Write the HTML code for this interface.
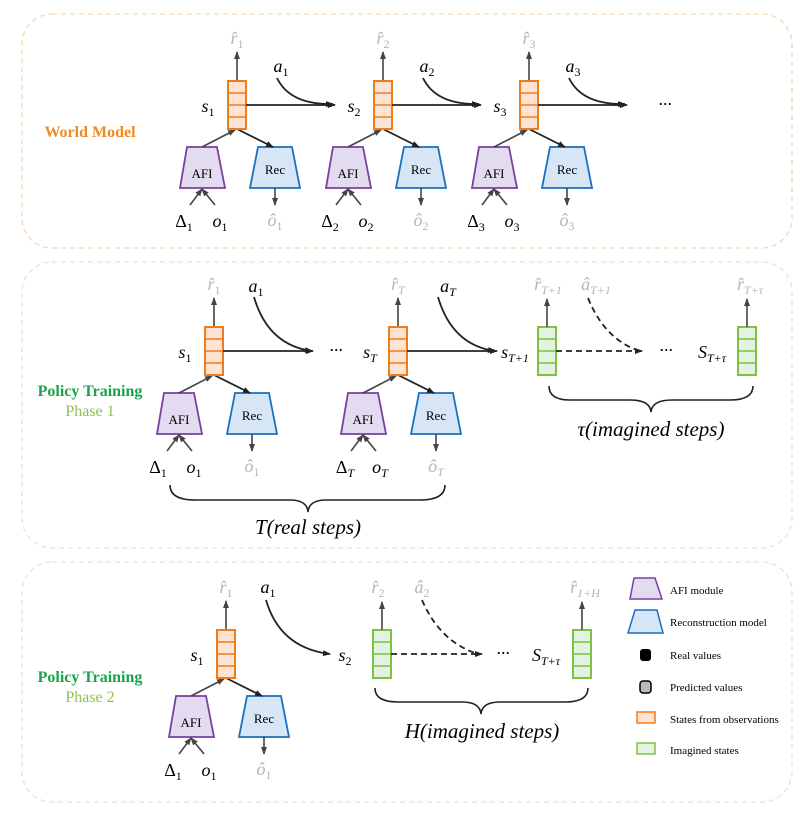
<!DOCTYPE html>
<html><head><meta charset="utf-8"><style>
html,body{margin:0;padding:0;background:#fff}
svg{display:block}
.m{font-family:"Liberation Serif","DejaVu Serif",serif;font-style:italic;font-size:18px;text-anchor:middle}
.m tspan{font-style:normal}
.m tspan.i{font-style:italic}
.g{fill:#b5b5b5}
.t{font-family:"Liberation Serif",serif;font-size:13px;text-anchor:middle}
.lg{font-family:"Liberation Serif",serif;font-size:11px}
.ph{font-family:"Liberation Serif",serif;font-size:16px;font-weight:bold;text-anchor:middle}
</style></head><body>
<svg width="812" height="820" viewBox="0 0 812 820" xmlns="http://www.w3.org/2000/svg">
<defs>
<marker id="ah" markerWidth="8" markerHeight="8" refX="7" refY="4" orient="auto" markerUnits="userSpaceOnUse"><path d="M0,1 L8,4 L0,7 z" fill="#222"/></marker>
<marker id="ahg" markerWidth="8" markerHeight="8" refX="7" refY="4" orient="auto" markerUnits="userSpaceOnUse"><path d="M0,1 L8,4 L0,7 z" fill="#444"/></marker>
<g id="ob"><rect x="0" y="0" width="18" height="48" fill="#fde3d3" stroke="#f07d1a" stroke-width="2"/><path d="M0,12H18M0,24H18M0,36H18" stroke="#f07d1a" stroke-width="1.5"/></g>
<g id="gb"><rect x="0" y="0" width="18" height="48" fill="#e4f2e1" stroke="#7dc242" stroke-width="2"/><path d="M0,12H18M0,24H18M0,36H18" stroke="#7dc242" stroke-width="1.5"/></g>
<g id="col">
 <line x1="9" y1="0" x2="9" y2="-29" stroke="#444" stroke-width="1.6" marker-end="url(#ahg)"/>
 <polygon points="-41,66 -11,66 -3,107 -48,107" fill="#e3dbef" stroke="#7a3fa0" stroke-width="1.8"/>
 <polygon points="30,66 64,66 72,107 22,107" fill="#d6e6f6" stroke="#1a6fbf" stroke-width="1.8"/>
 <line x1="-26" y1="66" x2="7" y2="49" stroke="#444" stroke-width="1.6" marker-end="url(#ahg)"/>
 <line x1="9" y1="48" x2="45" y2="66" stroke="#222" stroke-width="1.8" marker-end="url(#ah)"/>
 <line x1="47" y1="107" x2="47" y2="124" stroke="#444" stroke-width="1.6" marker-end="url(#ahg)"/>
 <line x1="-38" y1="124" x2="-26" y2="108" stroke="#444" stroke-width="1.6" marker-end="url(#ahg)"/>
 <line x1="-13" y1="124" x2="-26" y2="108" stroke="#444" stroke-width="1.6" marker-end="url(#ahg)"/>
 <use href="#ob"/>
</g>
</defs>

<rect x="22" y="14" width="770" height="234" rx="30" fill="none" stroke="#f9d6b0" stroke-width="1.3" stroke-dasharray="5,4"/>
<rect x="22" y="262" width="770" height="286" rx="30" fill="none" stroke="#d8e8e2" stroke-width="1.3" stroke-dasharray="5,4"/>
<rect x="22" y="562" width="770" height="240" rx="30" fill="none" stroke="#d8e8e2" stroke-width="1.3" stroke-dasharray="5,4"/>

<text x="90" y="137" class="ph" fill="#f08a24">World Model</text>
<text x="90" y="396" class="ph" fill="#1aa34a">Policy Training</text>
<text x="90" y="416" class="ph" style="font-weight:normal" fill="#8cc152">Phase 1</text>
<text x="90" y="682" class="ph" fill="#1aa34a">Policy Training</text>
<text x="90" y="702" class="ph" style="font-weight:normal" fill="#8cc152">Phase 2</text>

<!-- Panel 1 -->
<use href="#col" x="228" y="81"/><use href="#col" x="374" y="81"/><use href="#col" x="520" y="81"/>
<g fill="none" stroke="#222" stroke-width="1.8">
<path d="M277,78 Q290,105 333,104" marker-end="url(#ah)"/><line x1="246" y1="105" x2="335" y2="105" marker-end="url(#ah)"/>
<path d="M423,78 Q436,105 479,104" marker-end="url(#ah)"/><line x1="392" y1="105" x2="481" y2="105" marker-end="url(#ah)"/>
<path d="M569,78 Q582,105 625,104" marker-end="url(#ah)"/><line x1="538" y1="105" x2="627" y2="105" marker-end="url(#ah)"/>
</g>
<text x="665" y="110" class="m">···</text>
<g class="t"><text x="202" y="178">AFI</text><text x="275" y="174">Rec</text><text x="348" y="178">AFI</text><text x="421" y="174">Rec</text><text x="494" y="178">AFI</text><text x="567" y="174">Rec</text></g>
<g class="m">
<text x="208" y="112">s<tspan font-size="12" dy="4">1</tspan></text>
<text x="354" y="112">s<tspan font-size="12" dy="4">2</tspan></text>
<text x="500" y="112">s<tspan font-size="12" dy="4">3</tspan></text>
<text x="237" y="44" class="m g">r̂<tspan font-size="12" dy="4">1</tspan></text>
<text x="383" y="44" class="m g">r̂<tspan font-size="12" dy="4">2</tspan></text>
<text x="529" y="44" class="m g">r̂<tspan font-size="12" dy="4">3</tspan></text>
<text x="281" y="72">a<tspan font-size="12" dy="4">1</tspan></text>
<text x="427" y="72">a<tspan font-size="12" dy="4">2</tspan></text>
<text x="573" y="72">a<tspan font-size="12" dy="4">3</tspan></text>
<text x="275" y="226" class="m g">ô<tspan font-size="12" dy="4">1</tspan></text>
<text x="421" y="226" class="m g">ô<tspan font-size="12" dy="4">2</tspan></text>
<text x="567" y="226" class="m g">ô<tspan font-size="12" dy="4">3</tspan></text>
<text x="184" y="227" style="font-style:normal">Δ<tspan font-size="12" dy="4">1</tspan></text>
<text x="220" y="227">o<tspan font-size="12" dy="4">1</tspan></text>
<text x="330" y="227" style="font-style:normal">Δ<tspan font-size="12" dy="4">2</tspan></text>
<text x="366" y="227">o<tspan font-size="12" dy="4">2</tspan></text>
<text x="476" y="227" style="font-style:normal">Δ<tspan font-size="12" dy="4">3</tspan></text>
<text x="512" y="227">o<tspan font-size="12" dy="4">3</tspan></text>
</g>

<!-- Panel 2 -->
<use href="#col" x="205" y="327"/><use href="#col" x="389" y="327"/>
<use href="#gb" x="538" y="327"/><use href="#gb" x="738" y="327"/>
<g fill="none" stroke="#222" stroke-width="1.8">
<path d="M254,297 Q268,345 312,351" marker-end="url(#ah)"/><line x1="223" y1="351" x2="313" y2="351" marker-end="url(#ah)"/>
<path d="M438,297 Q452,345 495,351" marker-end="url(#ah)"/><line x1="407" y1="351" x2="497" y2="351" marker-end="url(#ah)"/>
<line x1="556" y1="351" x2="642" y2="351" stroke-dasharray="6,4" marker-end="url(#ah)"/>
<path d="M588,298 Q605,340 640,351" stroke-dasharray="6,4"/>
<line x1="547" y1="327" x2="547" y2="299" stroke="#444" stroke-width="1.6" marker-end="url(#ahg)"/>
<line x1="747" y1="327" x2="747" y2="299" stroke="#444" stroke-width="1.6" marker-end="url(#ahg)"/>
<path d="M549,386 Q549,400 570,400 L630,400 Q650,400 651,412 Q652,400 672,400 L730,400 Q753,400 753,386" stroke-width="1.6"/>
<path d="M170,485 Q170,500 195,500 L290,500 Q307,500 308,512 Q309,500 326,500 L420,500 Q445,500 445,485" stroke-width="1.6"/>
</g>
<g class="t"><text x="179" y="424">AFI</text><text x="252" y="420">Rec</text><text x="363" y="424">AFI</text><text x="436" y="420">Rec</text></g>
<g class="m">
<text x="185" y="358">s<tspan font-size="12" dy="4">1</tspan></text>
<text x="370" y="358">s<tspan font-size="12" dy="4" class="i">T</tspan></text>
<text x="336" y="356">···</text>
<text x="515" y="358">s<tspan font-size="12" dy="4" class="i">T+1</tspan></text>
<text x="666" y="356">···</text>
<text x="712" y="358">S<tspan font-size="12" dy="4" class="i">T+τ</tspan></text>
<text x="214" y="290" class="m g">r̂<tspan font-size="12" dy="4">1</tspan></text>
<text x="398" y="290" class="m g">r̂<tspan font-size="12" dy="4" class="i">T</tspan></text>
<text x="548" y="290" class="m g">r̂<tspan font-size="12" dy="4" class="i">T+1</tspan></text>
<text x="596" y="290" class="m g">â<tspan font-size="12" dy="4" class="i">T+1</tspan></text>
<text x="750" y="290" class="m g">r̂<tspan font-size="12" dy="4" class="i">T+τ</tspan></text>
<text x="256" y="292">a<tspan font-size="12" dy="4">1</tspan></text>
<text x="448" y="292">a<tspan font-size="12" dy="4" class="i">T</tspan></text>
<text x="252" y="472" class="m g">ô<tspan font-size="12" dy="4">1</tspan></text>
<text x="436" y="472" class="m g">ô<tspan font-size="12" dy="4" class="i">T</tspan></text>
<text x="158" y="473" style="font-style:normal">Δ<tspan font-size="12" dy="4">1</tspan></text>
<text x="194" y="473">o<tspan font-size="12" dy="4">1</tspan></text>
<text x="345" y="473" style="font-style:normal">Δ<tspan font-size="12" dy="4" class="i">T</tspan></text>
<text x="380" y="473">o<tspan font-size="12" dy="4" class="i">T</tspan></text>
<text x="651" y="436" font-size="21">τ(imagined steps)</text>
<text x="308" y="534" font-size="21">T(real steps)</text>
</g>

<!-- Panel 3 -->
<use href="#col" x="217" y="630"/>
<use href="#gb" x="373" y="630"/><use href="#gb" x="573" y="630"/>
<g fill="none" stroke="#222" stroke-width="1.8">
<path d="M266,600 Q280,648 330,654" marker-end="url(#ah)"/>
<line x1="391" y1="654" x2="482" y2="654" stroke-dasharray="6,4" marker-end="url(#ah)"/>
<path d="M422,600 Q440,642 478,654" stroke-dasharray="6,4"/>
<line x1="382" y1="630" x2="382" y2="602" stroke="#444" stroke-width="1.6" marker-end="url(#ahg)"/>
<line x1="582" y1="630" x2="582" y2="602" stroke="#444" stroke-width="1.6" marker-end="url(#ahg)"/>
<path d="M375,688 Q375,702 398,702 L462,702 Q480,702 481,714 Q482,702 500,702 L565,702 Q588,702 588,688" stroke-width="1.6"/>
</g>
<g class="t"><text x="191" y="727">AFI</text><text x="264" y="723">Rec</text></g>
<g class="m">
<text x="197" y="661">s<tspan font-size="12" dy="4">1</tspan></text>
<text x="345" y="661">s<tspan font-size="12" dy="4">2</tspan></text>
<text x="503" y="659">···</text>
<text x="546" y="661">S<tspan font-size="12" dy="4" class="i">T+τ</tspan></text>
<text x="226" y="593" class="m g">r̂<tspan font-size="12" dy="4">1</tspan></text>
<text x="378" y="593" class="m g">r̂<tspan font-size="12" dy="4">2</tspan></text>
<text x="422" y="593" class="m g">â<tspan font-size="12" dy="4">2</tspan></text>
<text x="585" y="593" class="m g">r̂<tspan font-size="12" dy="4" class="i">1+H</tspan></text>
<text x="268" y="593">a<tspan font-size="12" dy="4">1</tspan></text>
<text x="264" y="775" class="m g">ô<tspan font-size="12" dy="4">1</tspan></text>
<text x="173" y="776" style="font-style:normal">Δ<tspan font-size="12" dy="4">1</tspan></text>
<text x="209" y="776">o<tspan font-size="12" dy="4">1</tspan></text>
<text x="482" y="738" font-size="21">H(imagined steps)</text>
</g>

<!-- Legend -->
<polygon points="634,578 655,578 662,599 630,599" fill="#e3dbef" stroke="#7a3fa0" stroke-width="1.5"/>
<polygon points="635,610 657,610 663,633 628,633" fill="#d6e6f6" stroke="#1a6fbf" stroke-width="1.5"/>
<rect x="640" y="649" width="11" height="12" rx="3" fill="#000"/>
<rect x="640" y="681" width="11" height="12" rx="3" fill="#bbb" stroke="#000" stroke-width="1.5"/>
<rect x="637" y="712" width="18" height="11" fill="#fde3d3" stroke="#f07d1a" stroke-width="1.5"/>
<rect x="637" y="743" width="18" height="11" fill="#e4f2e1" stroke="#7dc242" stroke-width="1.5"/>
<g class="lg">
<text x="670" y="594">AFI module</text>
<text x="670" y="626">Reconstruction model</text>
<text x="670" y="659">Real values</text>
<text x="670" y="691">Predicted values</text>
<text x="670" y="723">States from observations</text>
<text x="670" y="754">Imagined states</text>
</g>
</svg>
</body></html>
